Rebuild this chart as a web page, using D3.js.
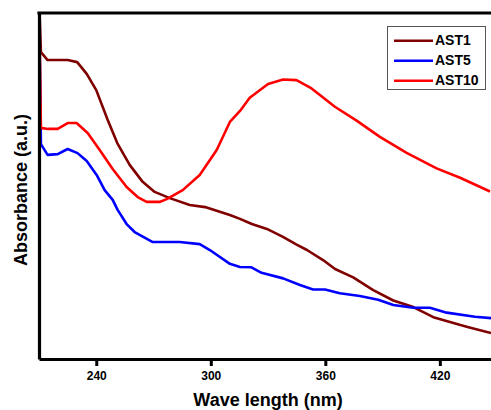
<!DOCTYPE html>
<html>
<head>
<meta charset="utf-8">
<script src="https://cdn.jsdelivr.net/npm/d3@7"></script>
<style>
  html, body { margin: 0; padding: 0; background: #ffffff; }
  svg { display: block; }
  text { font-family: Arial, "Liberation Sans", sans-serif; font-weight: bold; fill: #000; }
</style>
</head>
<body>
<svg id="chart" width="491" height="410"></svg>
<script>
// ---- Data (wavelength in nm, absorbance in a.u.) ----
const seriesNames = ["AST1", "AST5", "AST10"];
const seriesColors = ["#800000", "#0000ff", "#ff0000"];
const xTicks = [240, 300, 360, 420];

const ast1Wave = [210, 211, 214.5, 225, 230, 235, 240, 246, 251, 257.5, 264.3, 270.6, 278.5, 289, 297, 310, 315.3, 321.5, 329.4, 337.8, 345.2, 350.4, 358.8, 365.1, 374.6, 385.1, 395.6, 406.1, 416.6, 430.8, 435, 446.8];
const ast1Abs  = [1.05, 0.887, 0.864, 0.864, 0.858, 0.824, 0.777, 0.691, 0.624, 0.561, 0.512, 0.483, 0.465, 0.445, 0.439, 0.416, 0.405, 0.390, 0.376, 0.353, 0.330, 0.315, 0.286, 0.260, 0.236, 0.199, 0.169, 0.150, 0.121, 0.098, 0.092, 0.075];

const ast5Wave = [210, 211, 214.5, 219.8, 225, 230.2, 235, 240.2, 244.4, 248.6, 251.2, 255.9, 260.1, 269.6, 283.7, 294.2, 299.5, 310, 315.3, 321.3, 326.6, 337.9, 346.7, 353.6, 359.8, 367.6, 378.1, 387.7, 395.6, 406.1, 414.8, 423.6, 438.4, 446.8];
const ast5Abs  = [1.05, 0.621, 0.590, 0.592, 0.607, 0.595, 0.572, 0.532, 0.488, 0.460, 0.431, 0.390, 0.367, 0.338, 0.338, 0.332, 0.315, 0.275, 0.266, 0.265, 0.249, 0.233, 0.214, 0.201, 0.201, 0.190, 0.182, 0.171, 0.156, 0.148, 0.148, 0.134, 0.122, 0.118];

const ast10Wave = [210, 211, 214.5, 219.8, 225, 229.7, 235.5, 241.8, 248.6, 255.9, 261.7, 266.4, 273.2, 276.9, 285.3, 294.2, 303.1, 310, 315.3, 320.4, 330, 337.9, 344.9, 352.8, 365, 376.4, 388.6, 402.6, 418.3, 430.6, 446.3];
const ast10Abs  = [1.05, 0.668, 0.665, 0.665, 0.682, 0.682, 0.653, 0.604, 0.549, 0.497, 0.468, 0.454, 0.454, 0.462, 0.488, 0.532, 0.604, 0.685, 0.717, 0.755, 0.795, 0.808, 0.806, 0.782, 0.729, 0.689, 0.642, 0.596, 0.551, 0.524, 0.484];

const waves = [ast1Wave, ast5Wave, ast10Wave];
const absorb = [ast1Abs, ast5Abs, ast10Abs];

// ---- Layout ----
const svg = d3.select("#chart");
const mLeft = 39, mTop = 13, mBottom = 359, mRight = 491;

const x = d3.scaleLinear().domain([210, 446.8]).range([mLeft, mRight]);
const y = d3.scaleLinear().domain([0, 1]).range([mBottom, mTop]);

svg.append("rect").attr("width", 491).attr("height", 410).attr("fill", "#ffffff");

svg.append("defs").append("clipPath").attr("id", "plotClip")
  .append("rect").attr("x", mLeft).attr("y", mTop).attr("width", mRight - mLeft).attr("height", mBottom - mTop);

const line = d3.line().x(d => x(d[0])).y(d => y(d[1]));

const g = svg.append("g").attr("clip-path", "url(#plotClip)");
seriesNames.forEach((name, i) => {
  const pts = waves[i].map((w, j) => [w, absorb[i][j]]);
  g.append("path")
    .datum(pts)
    .attr("fill", "none")
    .attr("stroke", seriesColors[i])
    .attr("stroke-width", 2.6)
    .attr("stroke-linejoin", "round")
    .attr("d", line);
});

// ---- Axes ----
const xAxis = svg.append("g")
  .attr("transform", `translate(0,${mBottom})`)
  .call(d3.axisBottom(x).tickValues(xTicks).tickSize(7).tickSizeOuter(0).tickPadding(5.5).tickFormat(d3.format("d")));
xAxis.select(".domain").attr("stroke", "#000").attr("stroke-width", 3.2);
xAxis.selectAll(".tick line").attr("stroke", "#000").attr("stroke-width", 3);
xAxis.selectAll(".tick text")
  .attr("font-family", 'Arial, "Liberation Sans", sans-serif')
  .attr("font-weight", "bold")
  .attr("font-size", 12)
  .attr("fill", "#000");

const yAxis = svg.append("g")
  .attr("transform", `translate(${mLeft},0)`)
  .call(d3.axisLeft(y).tickValues([]).tickSizeOuter(0));
yAxis.select(".domain").attr("stroke", "#000").attr("stroke-width", 3.2);

// top frame line
svg.append("line")
  .attr("x1", mLeft - 1.6).attr("x2", mRight)
  .attr("y1", mTop).attr("y2", mTop)
  .attr("stroke", "#000").attr("stroke-width", 3.2);

// ---- Axis titles ----
svg.append("text")
  .attr("x", 268).attr("y", 406)
  .attr("text-anchor", "middle")
  .attr("font-size", 18)
  .text("Wave length (nm)");

svg.append("text")
  .attr("transform", "translate(27,190) rotate(-90)")
  .attr("text-anchor", "middle")
  .attr("font-size", 18)
  .text("Absorbance (a.u.)");

// ---- Legend ----
const legend = svg.append("g");
legend.append("rect")
  .attr("x", 387.5).attr("y", 26.5).attr("width", 98).attr("height", 63)
  .attr("fill", "#ffffff").attr("stroke", "#555").attr("stroke-width", 1);
seriesNames.forEach((name, i) => {
  const ly = 40.7 + i * 20;
  legend.append("line")
    .attr("x1", 394).attr("x2", 433)
    .attr("y1", ly).attr("y2", ly)
    .attr("stroke", seriesColors[i]).attr("stroke-width", 2.6);
  legend.append("text")
    .attr("x", 435).attr("y", ly + 4.6)
    .attr("font-size", 14)
    .text(name);
});
</script>
</body>
</html>
